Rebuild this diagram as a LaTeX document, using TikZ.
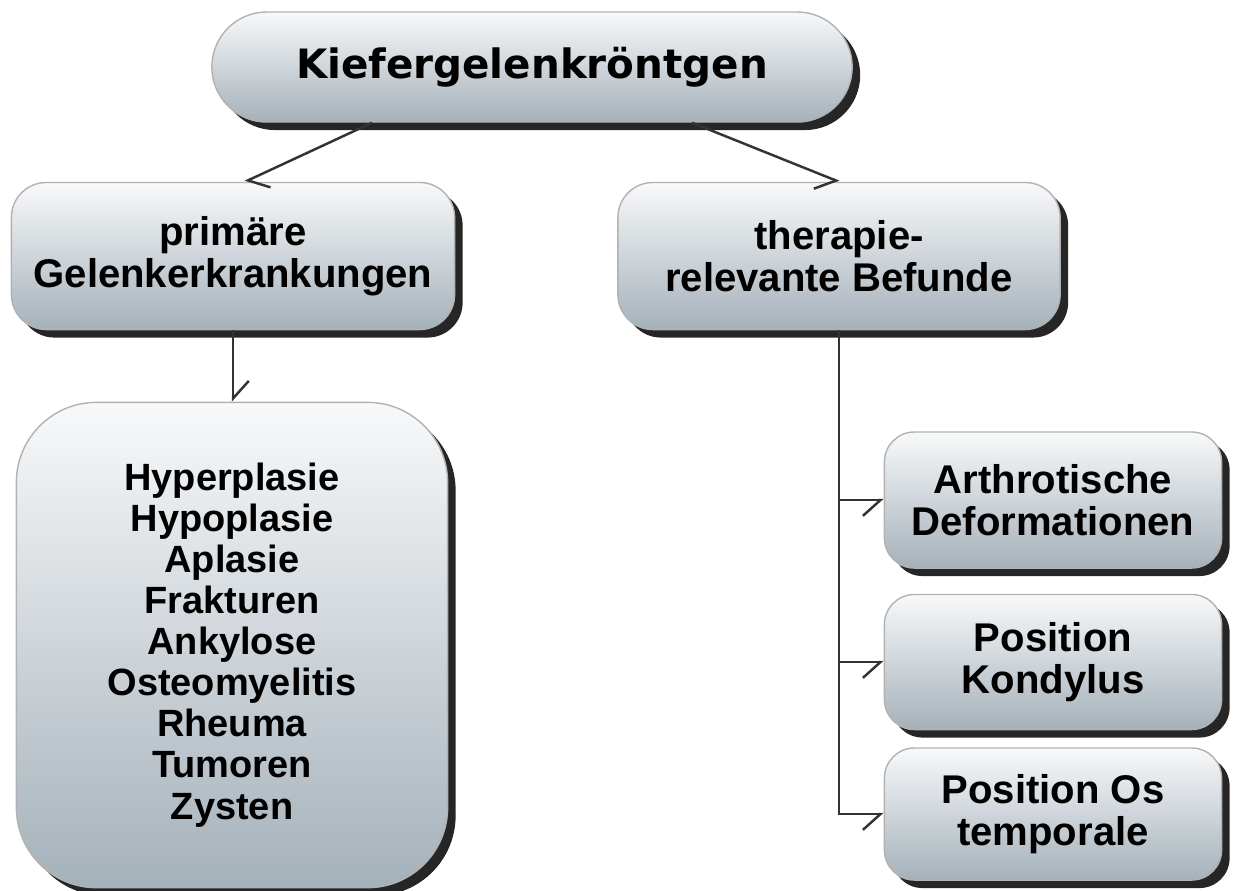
\documentclass[tikz,border=0pt]{standalone}
\usepackage{fontspec}
\setmainfont{Liberation Sans}
\newfontfamily\titlefont{DejaVu Sans}
\usetikzlibrary{calc,shadows,arrows.meta}
\definecolor{boxtop}{HTML}{F8F9FA}
\definecolor{boxbot}{HTML}{A5B1BA}
\def\boxfont{\fontsize{11.4}{11.95}\selectfont\bfseries}
\def\listfont{\fontsize{10.8}{11.67}\selectfont\bfseries}

\begin{document}
\begin{tikzpicture}[x=0.01cm, y=-0.01cm,
	box/.style={draw=gray!60, line width=0.4pt, top color=boxtop, bottom color=boxbot,
		drop shadow={shadow xshift=0.08cm, shadow yshift=-0.08cm, opacity=0.85, fill=black},
		align=center, inner sep=0pt, font=\boxfont},
	link/.style={line width=0.7pt, color=black!80, -{Straight Barb[right, length=5pt, width=9pt]}},
	linkl/.style={line width=0.7pt, color=black!80, -{Straight Barb[left, length=5pt, width=9pt]}}]
			%%%%% START %%%%%
			
			\useasboundingbox (0, 0) rectangle (1234, 890);
			
			\node[box, rounded corners=0.55cm, minimum width=6.4cm, minimum height=1.1cm,
				font=\titlefont\fontsize{11.5}{12}\selectfont\bfseries] (roentgen) at (532, 67) {Kiefergelenkröntgen};
			
			\node[box, rounded corners=0.35cm, minimum width=4.43cm, minimum height=1.47cm] (prim) at (233, 256) {primäre\\Gelenkerkrankungen};
			\node[box, rounded corners=0.35cm, minimum width=4.42cm, minimum height=1.47cm] (ther) at (839, 256) {therapie-\\relevante Befunde};
			
			\node[box, rounded corners=0.8cm, minimum width=4.31cm, minimum height=4.85cm, font=\listfont] (liste) at (232, 645)
				{Hyperplasie\\Hypoplasie\\Aplasie\\Frakturen\\Ankylose\\Osteomyelitis\\Rheuma\\Tumoren\\Zysten};
			
			\node[box, rounded corners=0.3cm, minimum width=3.37cm, minimum height=1.36cm] (arthro) at (1053, 500) {Arthrotische\\Deformationen};
			\node[box, rounded corners=0.3cm, minimum width=3.37cm, minimum height=1.35cm] (kondylus) at (1053, 662) {Position\\Kondylus};
			\node[box, rounded corners=0.3cm, minimum width=3.37cm, minimum height=1.32cm] (ostemp) at (1053, 814) {Position Os\\temporale};
			
			\draw[linkl] ($(roentgen.south)+(-160, 0)$) -- ($(prim.north)+(12, 0)$);
			\draw[link] ($(roentgen.south)+(160, 0)$) -- (ther.north);
			\draw[linkl] (prim.south) -- (prim.south |- liste.north);
			
			\draw[link] (ther.south) |- (arthro.west);
			\draw[link] (ther.south) |- (kondylus.west);
			\draw[link] (ther.south) |- (ostemp.west);
			
			%%%%% END %%%%%
\end{tikzpicture}
\end{document}
